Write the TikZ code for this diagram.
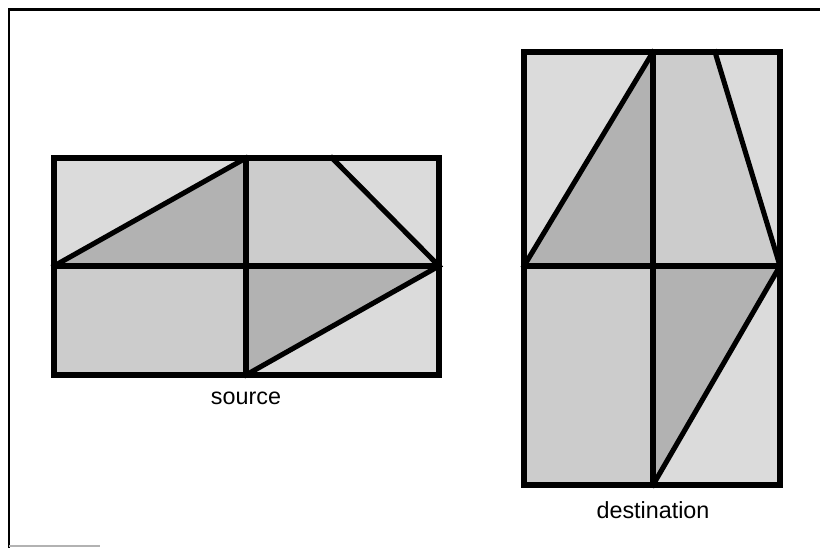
\documentclass[tikz,border=0pt]{standalone}
\usepackage{fontspec}
\setmainfont{Liberation Sans}
\begin{document}
\begin{tikzpicture}[x=0.75pt,y=-0.75pt,
  light/.style={fill=black!14},
  mid/.style={fill=black!20},
  dark/.style={fill=black!30},
  edge/.style={line width=3.8pt,line cap=rect,line join=miter},
  lbl/.style={font=\fontsize{17.5}{20}\selectfont,anchor=base,inner sep=0pt}]
\useasboundingbox (0,0) rectangle (820,548);
\fill[white] (0,0) rectangle (820,548);
% frame
\draw[line width=2.2pt] (820,9.5) -- (9,9.5) -- (9,548);
\draw[line width=0.8pt,black!30] (9,546) -- (100,546);
% ---------- source ----------
\coordinate (sTL) at (54,158);
\coordinate (sTM) at (246,158);
\coordinate (sTD) at (332,158);
\coordinate (sTR) at (439,158);
\coordinate (sML) at (54,266);
\coordinate (sC) at (246,266);
\coordinate (sMR) at (439,266);
\coordinate (sBL) at (54,375);
\coordinate (sBM) at (246,375);
\coordinate (sBR) at (439,375);
\fill[light] (sTL) -- (sTM) -- (sML) -- cycle;
\fill[dark] (sML) -- (sTM) -- (sC) -- cycle;
\fill[mid] (sTM) -- (sTD) -- (sMR) -- (sC) -- cycle;
\fill[light] (sTD) -- (sTR) -- (sMR) -- cycle;
\fill[mid] (sML) rectangle (sBM);
\fill[dark] (sC) -- (sMR) -- (sBM) -- cycle;
\fill[light] (sBM) -- (sMR) -- (sBR) -- cycle;
\draw[edge] (sTL) rectangle (sBR);
\draw[edge] (sTM) -- (sBM);
\draw[edge] (sML) -- (sMR);
\draw[edge] (sML) -- (sTM);
\draw[edge] (sTD) -- (sMR) -- (sBM);
\node[lbl] (src) at (246,404) {source};
% ---------- destination ----------
\coordinate (dTL) at (524,52);
\coordinate (dTM) at (653,52);
\coordinate (dTD) at (715,52);
\coordinate (dTR) at (780,52);
\coordinate (dML) at (524,266);
\coordinate (dC) at (653,266);
\coordinate (dMR) at (780,266);
\coordinate (dBL) at (524,485);
\coordinate (dBM) at (653,485);
\coordinate (dBR) at (780,485);
\fill[light] (dTL) -- (dTM) -- (dML) -- cycle;
\fill[dark] (dML) -- (dTM) -- (dC) -- cycle;
\fill[mid] (dTM) -- (dTD) -- (dMR) -- (dC) -- cycle;
\fill[light] (dTD) -- (dTR) -- (dMR) -- cycle;
\fill[mid] (dML) rectangle (dBM);
\fill[dark] (dC) -- (dMR) -- (dBM) -- cycle;
\fill[light] (dBM) -- (dMR) -- (dBR) -- cycle;
\draw[edge] (dTL) rectangle (dBR);
\draw[edge] (dTM) -- (dBM);
\draw[edge] (dML) -- (dMR);
\draw[edge] (dML) -- (dTM);
\draw[edge] (dTD) -- (dMR) -- (dBM);
\node[lbl] (dst) at (653,518) {destination};
\end{tikzpicture}
\end{document}
